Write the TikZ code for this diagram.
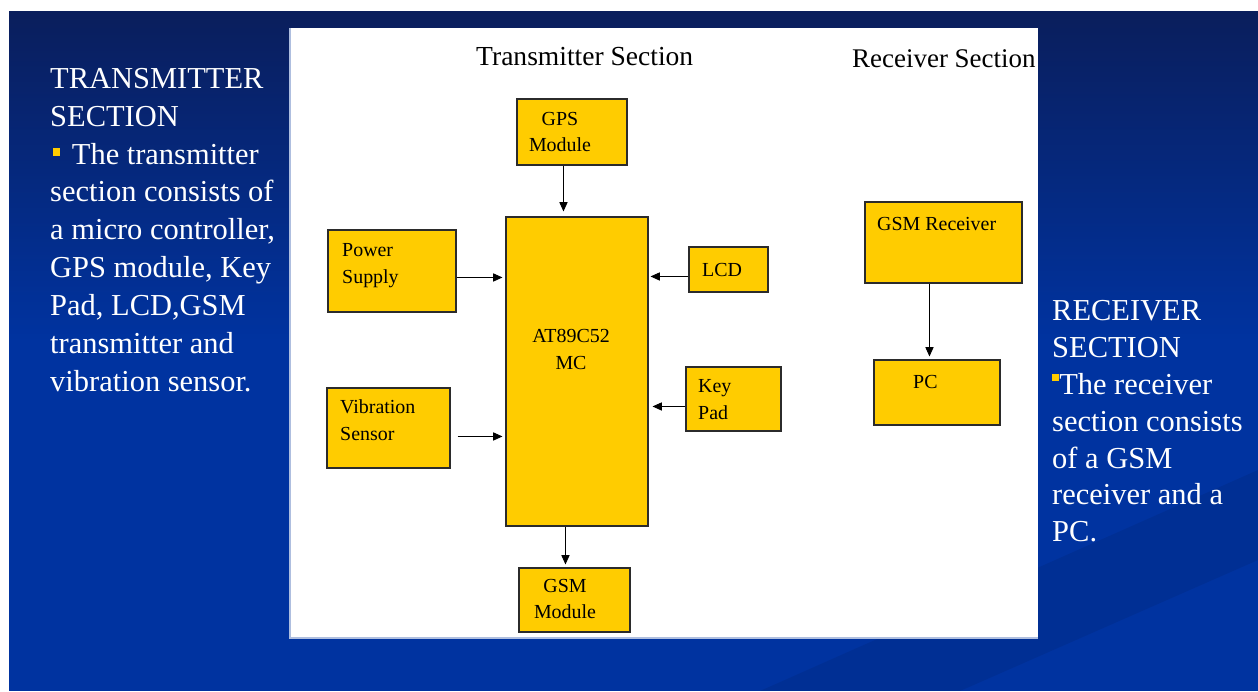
\documentclass[tikz,border=0pt]{standalone}
\usepackage{fontspec}
\setmainfont{Liberation Serif}
\usetikzlibrary{fit,arrows.meta,calc}
\definecolor{gold}{HTML}{FFCC00}
\definecolor{navy}{HTML}{0A1E5C}
\definecolor{slide}{HTML}{0033A0}
\definecolor{edge}{HTML}{2B2B2B}
\definecolor{panelline}{HTML}{AEBEDF}
\begin{document}
\begin{tikzpicture}[x=0.03cm,y=-0.03cm,
 box/.style={draw=edge, line width=0.9pt, fill=gold, inner sep=0pt},
 boxtxt/.style={font=\fontsize{17}{22.5}\selectfont, text=black, inner sep=0pt},
 arr/.style={draw=black, line width=0.8pt, -{Triangle[length=8pt,width=7pt]}},
 slidetxt/.style={text=white, inner sep=0pt, align=left, anchor=north west},
 title/.style={inner sep=0pt, anchor=base west}]

\useasboundingbox (0,0) rectangle (1258,691);
\fill[white] (0,0) rectangle (1258,691);
\shade[top color=navy, bottom color=slide] (9,11) rectangle (1258,341);
\fill[slide] (9,340) rectangle (1258,691);
\fill[black, opacity=0.07] (760,691) -- (1258,470) -- (1258,560) -- (960,691) -- cycle;

% white panel
\fill[white] (290,28) rectangle (1038,638);
\draw[panelline, line width=1pt] (290,28) -- (290,638) -- (1038,638);

% titles
\node[title, font=\fontsize{23.5}{28}\selectfont] (ttx) at (476,65) {Transmitter Section};
\node[title, font=\fontsize{23}{28}\selectfont] (trx) at (852,67) {Receiver Section};

% boxes
\node[box, fit={(517,99) (627,165)}] (gps) {};
\node[box, fit={(328,230) (456,312)}] (power) {};
\node[box, fit={(506,217) (648,526)}] (mc) {};
\node[box, fit={(689,247) (768,292)}] (lcd) {};
\node[box, fit={(686,367) (781,431)}] (key) {};
\node[box, fit={(327,388) (450,468)}] (vib) {};
\node[box, fit={(519,568) (630,632)}] (gsm) {};
\node[box, fit={(865,202) (1022,283)}] (rx) {};
\node[box, fit={(874,360) (1000,425)}] (pc) {};

% box texts
\node[boxtxt, align=center, anchor=north] (tgps) at (560,111.6) {GPS\\Module};
\node[boxtxt, align=left, anchor=north west] (tpower) at (342,243.6) {Power\\Supply};
\node[boxtxt, align=center, anchor=north] (tmc) at (571,329.5) {AT89C52\\MC};
\node[boxtxt, anchor=base west] (tlcd) at (702,276) {LCD};
\node[boxtxt, align=left, anchor=north west] (tkey) at (698,379.6) {Key\\Pad};
\node[boxtxt, align=left, anchor=north west] (tvib) at (340,399.6) {Vibration\\Sensor};
\node[boxtxt, align=center, anchor=north] (tgsm) at (565,578.6) {GSM\\Module};
\node[boxtxt, anchor=base west] (trxt) at (877,230) {GSM Receiver};
\node[boxtxt, anchor=base west] (tpc) at (913,388) {PC};

% connectors
\draw[arr] ($(gps.south west)+(47,0)$) -- ($(mc.north west)+(58,-5)$);
\draw[arr] ($(power.north east)+(0,48)$) -- ($(mc.north west)+(-3,61)$);
\draw[arr] ($(lcd.north west)+(0,30)$) -- ($(mc.north east)+(2,60)$);
\draw[arr] ($(key.north west)+(0,40)$) -- ($(mc.north east)+(4,190)$);
\draw[arr] ($(vib.north east)+(7,49)$) -- ($(mc.north west)+(-3,220)$);
\draw[arr] ($(mc.south west)+(60,0)$) -- ($(gsm.north west)+(47,-3)$);
\draw[arr] ($(rx.south west)+(65,0)$) -- ($(pc.north west)+(56,-3)$);

% slide texts
\node[slidetxt, font=\fontsize{26}{32.3}\selectfont] (left) at (50,68) {TRANSMITTER\\SECTION\\\hspace{2.5pt}\textcolor{gold}{\rule[7pt]{6pt}{6.5pt}}\hspace{10pt}The transmitter\\section consists of\\a micro controller,\\GPS module, Key\\Pad, LCD,GSM\\transmitter and\\vibration sensor.};
\node[slidetxt, font=\fontsize{26}{31.5}\selectfont] (right) at (1052,300) {RECEIVER\\SECTION\\\textcolor{gold}{\rule[11pt]{6pt}{6.5pt}}The receiver\\section consists\\of a GSM\\receiver and a\\PC.};
\end{tikzpicture}
\end{document}
